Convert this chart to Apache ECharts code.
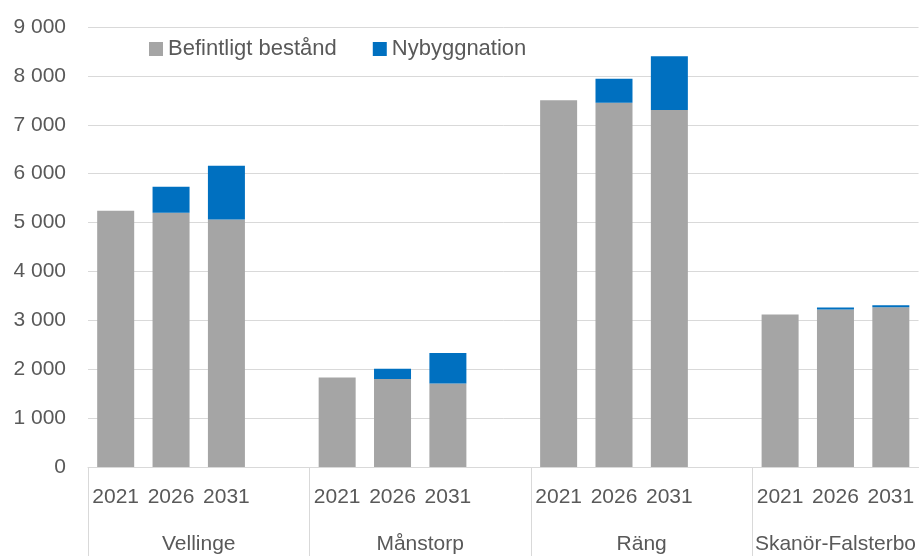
<!DOCTYPE html>
<html>
<head>
<meta charset="utf-8">
<script src="https://cdn.jsdelivr.net/npm/echarts@6/dist/echarts.min.js"></script>
<style>
  html, body { margin: 0; padding: 0; background: #fff; }
  #chart { width: 919px; height: 556px; }
</style>
</head>
<body>
<div id="chart"></div>
<script>
var groups = ['Vellinge', 'Månstorp', 'Räng', 'Skanör-Falsterbo'];
var years = ['2021', '2026', '2031'];

// per group, per year
var befintligt = [
    [5240, 5200, 5060],
    [1830, 1800, 1710],
    [7500, 7450, 7300],
    [3120, 3220, 3270]
];
var nybyggnation = [
    [0, 530, 1100],
    [0, 210, 620],
    [0, 490, 1100],
    [0, 45, 40]
];

var yTicks = [0, 1000, 2000, 3000, 4000, 5000, 6000, 7000, 8000, 9000];

// flat category list, one empty slot between groups
var cats = [], dataBef = [], dataNy = [];
var groupStarts = [], groupCenters = [];
for (var g = 0; g < groups.length; g++) {
    var start = cats.length;
    groupStarts.push(start);
    for (var i = 0; i < years.length; i++) {
        cats.push(years[i]);
        dataBef.push(befintligt[g][i]);
        dataNy.push(nybyggnation[g][i]);
    }
    if (g < groups.length - 1) {
        cats.push('');
        dataBef.push(null);
        dataNy.push(null);
    }
    groupCenters.push(start + (cats.length - start) / 2);
}

var txt = '#595959';
var font = 'Liberation Sans';

var chart = echarts.init(document.getElementById('chart'));
var option = {
    animation: false,
    textStyle: { fontFamily: font },
    grid: { left: 88, right: 0, top: 27, bottom: 89, containLabel: false },
    legend: {
        left: 149, top: 38, padding: 0,
        itemWidth: 14, itemHeight: 14, itemGap: 36,
        textStyle: { color: txt, fontSize: 22, fontFamily: font },
        data: [
            { name: 'Befintligt bestånd', icon: 'rect' },
            { name: 'Nybyggnation', icon: 'rect' }
        ]
    },
    xAxis: [{
        type: 'category',
        data: cats,
        axisLine: { lineStyle: { color: '#d9d9d9', width: 1 } },
        axisTick: { show: false },
        axisLabel: { color: txt, fontSize: 21, margin: 20, interval: 0 }
    }, {
        type: 'value',
        position: 'bottom',
        min: 0, max: cats.length,
        splitLine: { show: false },
        axisLine: { show: false },
        axisTick: {
            show: true, length: 90, customValues: groupStarts,
            lineStyle: { color: '#d9d9d9', width: 1 }
        },
        axisLabel: {
            color: txt, fontSize: 21, margin: 67,
            customValues: groupCenters,
            formatter: function (v) {
                var k = groupCenters.indexOf(v);
                return k >= 0 ? groups[k] : '';
            }
        }
    }],
    yAxis: {
        type: 'value',
        min: 0, max: 9000, interval: 1000,
        axisLine: { show: false },
        axisTick: { show: false },
        splitLine: { lineStyle: { color: '#d9d9d9', width: 1 } },
        axisLabel: {
            color: txt, fontSize: 21, margin: 22,
            formatter: function (v) {
                return yTicks.indexOf(v) >= 0 ? String(v).replace(/\B(?=(\d{3})+(?!\d))/g, ' ') : '';
            }
        }
    },
    series: [{
        name: 'Befintligt bestånd',
        type: 'bar',
        stack: 'tot',
        barWidth: 37,
        itemStyle: { color: '#a5a5a5' },
        data: dataBef
    }, {
        name: 'Nybyggnation',
        type: 'bar',
        stack: 'tot',
        barWidth: 37,
        itemStyle: { color: '#0070c0' },
        data: dataNy
    }]
};
chart.setOption(option);
</script>
</body>
</html>
